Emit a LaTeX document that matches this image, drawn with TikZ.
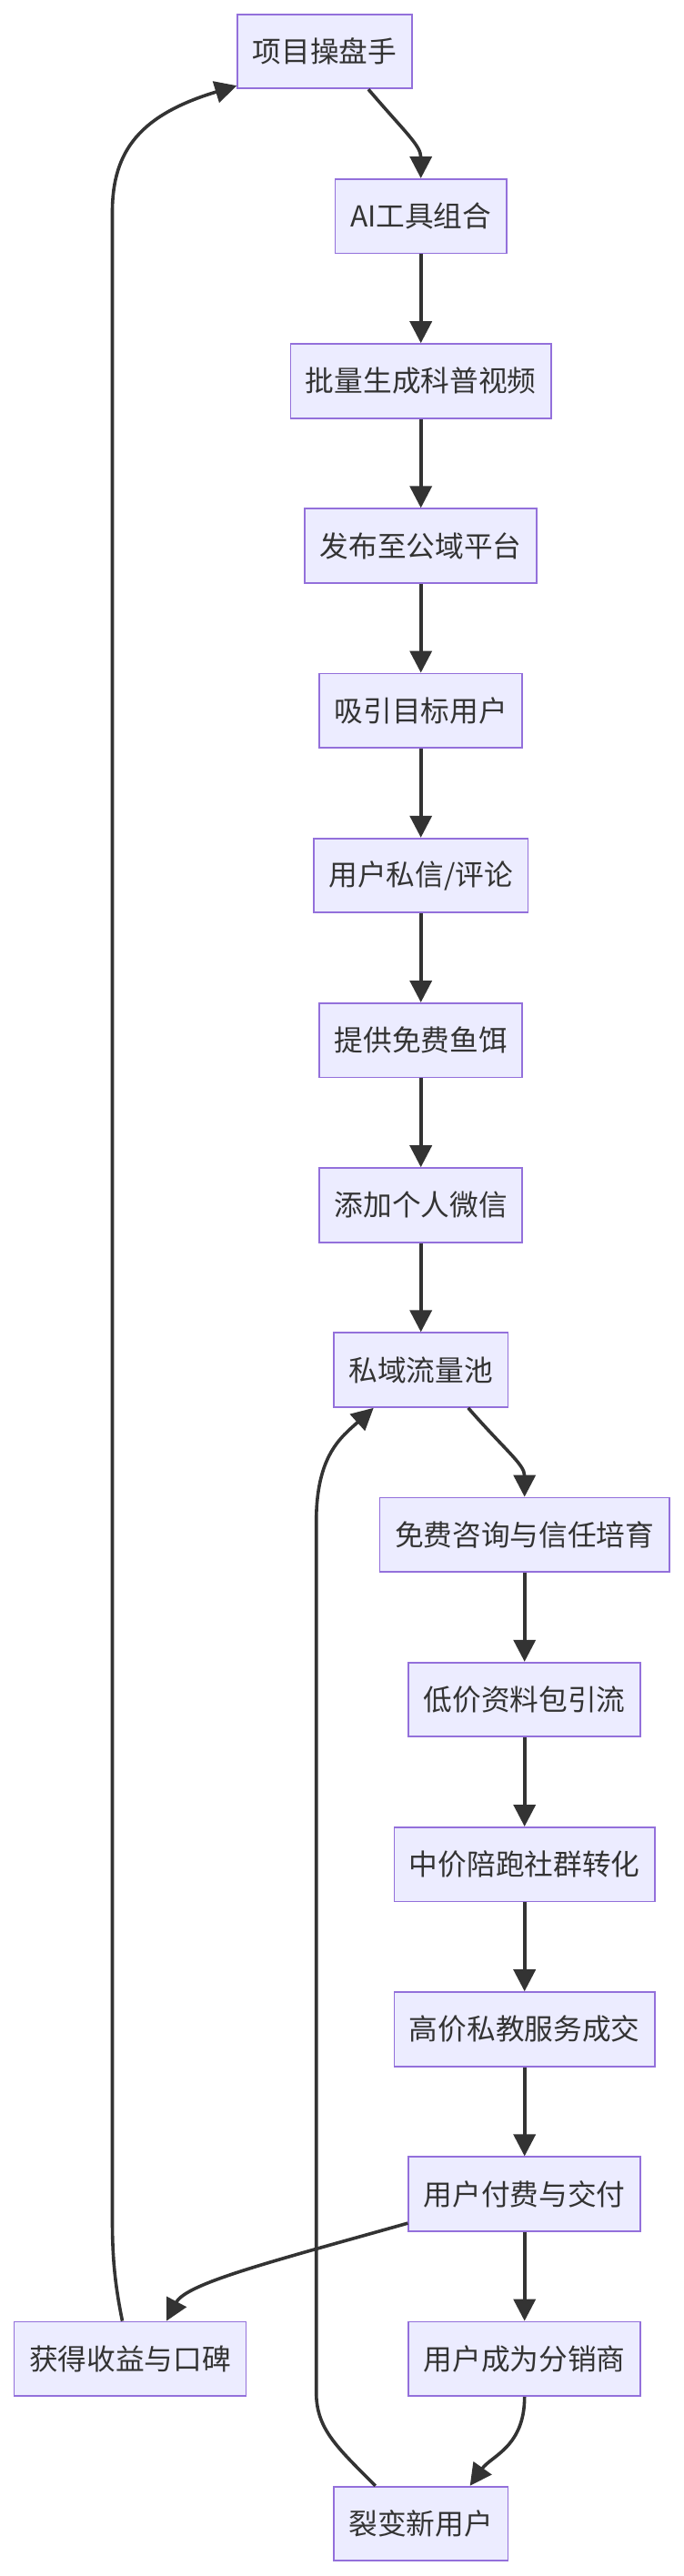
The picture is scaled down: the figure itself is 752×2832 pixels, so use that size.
\documentclass[tikz,border=0pt]{standalone}
\usepackage{fontspec}
\setmainfont{Noto Sans CJK SC}
\usetikzlibrary{arrows.meta}
\definecolor{boxfill}{HTML}{ECECFF}
\definecolor{boxline}{HTML}{9370DB}
\definecolor{ink}{HTML}{333333}
\tikzset{
  box/.style={draw=boxline, fill=boxfill, line width=1.8pt, text=ink,
    font=\fontsize{31.7pt}{36pt}\selectfont, inner xsep=16.5pt, inner ysep=0pt,
    minimum height=81.6pt, anchor=center},
  arr/.style={draw=ink, line width=3.6pt, -{Triangle[length=24pt,width=24pt]}},
  ln/.style={draw=ink, line width=3.6pt}
}
\begin{document}
\begin{tikzpicture}[x=1pt,y=-1pt]
\fill[white] (0,0) rectangle (752,2832);
\useasboundingbox (0,0) rectangle (752,2832);

\node[box] (n0) at (357,56.5) {项目操盘手};
\node[box] (n1) at (462.7,237.7) {AI工具组合};
\node[box] (n2) at (462.7,418.9) {批量生成科普视频};
\node[box] (n3) at (462.7,600.1) {发布至公域平台};
\node[box] (n4) at (462.7,781.3) {吸引目标用户};
\node[box] (n5) at (462.7,962.5) {用户私信/评论};
\node[box] (n6) at (462.7,1143.7) {提供免费鱼饵};
\node[box] (n7) at (462.7,1324.9) {添加个人微信};
\node[box] (n8) at (462.7,1506.1) {私域流量池};
\node[box] (n9) at (576.7,1687.3) {免费咨询与信任培育};
\node[box] (n10) at (576.7,1868.5) {低价资料包引流};
\node[box] (n11) at (576.7,2049.7) {中价陪跑社群转化};
\node[box] (n12) at (576.7,2230.9) {高价私教服务成交};
\node[box] (n13) at (576.7,2412.1) {用户付费与交付};
\node[box] (n14) at (143,2593.3) {获得收益与口碑};
\node[box] (n15) at (576.7,2593.3) {用户成为分销商};
\node[box] (n16) at (462.7,2774.5) {裂变新用户};

% curved top edge
\draw[arr] ([xshift=48pt]n0.south) .. controls (445,145) and (462.7,160) .. (n1.north);
% straight column
\draw[arr] (n1) -- (n2);
\draw[arr] (n2) -- (n3);
\draw[arr] (n3) -- (n4);
\draw[arr] (n4) -- (n5);
\draw[arr] (n5) -- (n6);
\draw[arr] (n6) -- (n7);
\draw[arr] (n7) -- (n8);
% to right column
\draw[arr] ([xshift=52pt]n8.south) .. controls (556,1595) and (576.7,1610) .. (n9.north);
\draw[arr] (n9) -- (n10);
\draw[arr] (n10) -- (n11);
\draw[arr] (n11) -- (n12);
\draw[arr] (n12) -- (n13);
\draw[arr] (n13) -- (n15);
% to revenue
\draw[arr] ([yshift=-32pt]n13.west) .. controls (300,2486) and (205,2510) .. ([xshift=40pt]n14.north);
% distributor to fission
\draw[arr] (n15.south) .. controls (576.7,2690) and (540,2700) .. ([xshift=54pt]n16.north);
% fission back to private pool
\coordinate (m1) at (347.7,2630);
\coordinate (m2) at (347.7,1673);
\draw[arr] ([xshift=-50pt]n16.north) .. controls (370,2690) and (347.7,2670) .. (m1)
  -- (m2) .. controls (347.7,1600) and (375,1580) .. ([xshift=-52pt]n8.south);
% revenue back to operator
\coordinate (l1) at (123.5,2440);
\coordinate (l2) at (123.5,233);
\draw[arr] ([xshift=-8.5pt]n14.north) .. controls (126,2510) and (123.5,2480) .. (l1)
  -- (l2) .. controls (123.5,165) and (155,126) .. ([yshift=4pt]n0.south west);
\end{tikzpicture}
\end{document}
